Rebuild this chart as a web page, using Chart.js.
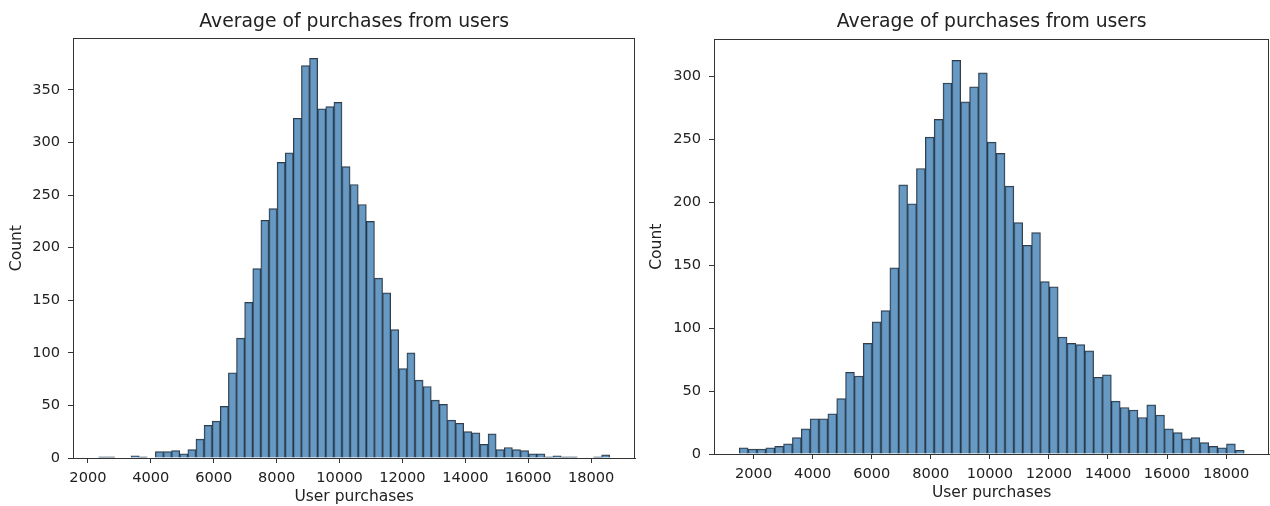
<!DOCTYPE html>
<html>
<head>
<meta charset="utf-8">
<script src="https://cdn.jsdelivr.net/npm/chart.js@4"></script>
<style>
  body { margin: 0; background: #fff; }
  .panel { position: absolute; top: 0; height: 506px; }
</style>
</head>
<body>
<div class="panel" style="left:0;width:640px"><canvas id="leftChart" width="640" height="506"></canvas></div>
<div class="panel" style="left:640px;width:630px"><canvas id="rightChart" width="630" height="506"></canvas></div>
<script>
// histogram bins (start of first bin, bin width)
const leftBinStart = 2338;
const leftBinWidth = 258;
const leftCounts = [1, 1, 0, 0, 2, 1, 0, 6, 6, 7, 4, 8, 18, 31, 35, 49, 81, 114, 148, 180,
  226, 237, 281, 290, 323, 373, 380, 332, 334, 338, 277, 260, 241, 225, 171, 157, 122, 85, 100, 74,
  68, 55, 51, 36, 33, 25, 24, 13, 23, 8, 10, 8, 7, 4, 4, 1, 2, 1, 1, 0, 0, 1, 3];

const rightBinStart = 1514;
const rightBinWidth = 300;
const rightCounts = [5, 4, 4, 5, 6, 8, 13, 20, 28, 28, 32, 44, 65, 62, 88, 105, 114, 148, 214, 199,
  227, 252, 266, 295, 313, 280, 292, 303, 248, 239, 213, 184, 166, 176, 137, 133, 93, 88, 87, 82,
  61, 63, 42, 37, 35, 29, 39, 31, 20, 17, 12, 13, 9, 6, 5, 8, 3];

// tick values
const xTicks = [2000, 4000, 6000, 8000, 10000, 12000, 14000, 16000, 18000];
const leftYTicks = [0, 50, 100, 150, 200, 250, 300, 350];
const rightYTicks = [0, 50, 100, 150, 200, 250, 300];

const chartTitle = 'Average of purchases from users';
const xLabel = 'User purchases';
const yLabel = 'Count';

const fontFamily = '"DejaVu Sans", sans-serif';
const textColor = '#222';

const frame = {
  id: 'frame',
  afterDraw(chart) {
    const a = chart.chartArea;
    const c = chart.ctx;
    c.save();
    c.strokeStyle = '#333';
    c.lineWidth = 1;
    c.strokeRect(Math.round(a.left) + 0.5, Math.round(a.top) + 0.5,
      Math.round(a.right - a.left) - 1, Math.round(a.bottom - a.top));
    c.restore();
  }
};

function makeHist(id, start, width, counts, yTicks, opts) {
  const points = counts.map((n, i) => ({ x: start + width * (i + 0.5), y: n }));
  return new Chart(document.getElementById(id), {
    type: 'bar',
    data: {
      datasets: [{
        data: points,
        backgroundColor: 'rgba(70,130,180,0.82)',
        borderColor: 'rgba(30,38,48,0.9)',
        borderWidth: 1,
        barPercentage: 1,
        categoryPercentage: 1
      }]
    },
    options: {
      responsive: false,
      animation: false,
      layout: { padding: { left: 0, right: opts.padRight, bottom: 0 } },
      plugins: {
        legend: { display: false },
        tooltip: { enabled: false },
        title: {
          display: true,
          fullSize: false,
          text: chartTitle,
          color: textColor,
          font: { family: fontFamily, size: 18.8, weight: 'normal' },
          padding: { top: 10.5, bottom: opts.titleBottom }
        }
      },
      scales: {
        x: {
          type: 'linear',
          offset: false,
          min: opts.xMin,
          max: opts.xMax,
          afterBuildTicks: s => { s.ticks = xTicks.map(v => ({ value: v })); },
          afterFit: s => { s.height = opts.xHeight; },
          border: { display: true, color: '#333' },
          grid: { offset: false, drawOnChartArea: false, drawTicks: true, tickLength: 5, color: '#333' },
          ticks: {
            padding: 6,
            color: textColor,
            font: { family: fontFamily, size: 14.6 },
            maxRotation: 0,
            autoSkip: false,
            callback: v => String(v)
          },
          title: {
            display: true,
            text: xLabel,
            color: textColor,
            font: { family: fontFamily, size: 15.5 },
            padding: { top: 0, bottom: opts.xTitleBottom }
          }
        },
        y: {
          min: 0,
          max: opts.yMax,
          afterBuildTicks: s => { s.ticks = yTicks.map(v => ({ value: v })); },
          afterFit: s => { s.width = opts.yWidth; },
          border: { display: true, color: '#333' },
          grid: { drawOnChartArea: false, drawTicks: true, tickLength: 5, color: '#333' },
          ticks: {
            padding: 8,
            color: textColor,
            font: { family: fontFamily, size: 14.6 },
            callback: v => String(v)
          },
          title: {
            display: true,
            text: yLabel,
            color: textColor,
            font: { family: fontFamily, size: 15.5 },
            padding: { top: opts.yTitleTop, bottom: 0 }
          }
        }
      }
    },
    plugins: [frame]
  });
}

makeHist('leftChart', leftBinStart, leftBinWidth, leftCounts, leftYTicks, {
  xMin: 1525, xMax: 19404, yMax: 399, yWidth: 73, xHeight: 48,
  padRight: 4.7, titleBottom: 5.2, xTitleBottom: 0, yTitleTop: 7.4
});
makeHist('rightChart', rightBinStart, rightBinWidth, rightCounts, rightYTicks, {
  xMin: 659, xMax: 19463, yMax: 329.6, yWidth: 74, xHeight: 52,
  padRight: 0.7, titleBottom: 6.4, xTitleBottom: 3.7, yTitleTop: 7.7
});
</script>
</body>
</html>
